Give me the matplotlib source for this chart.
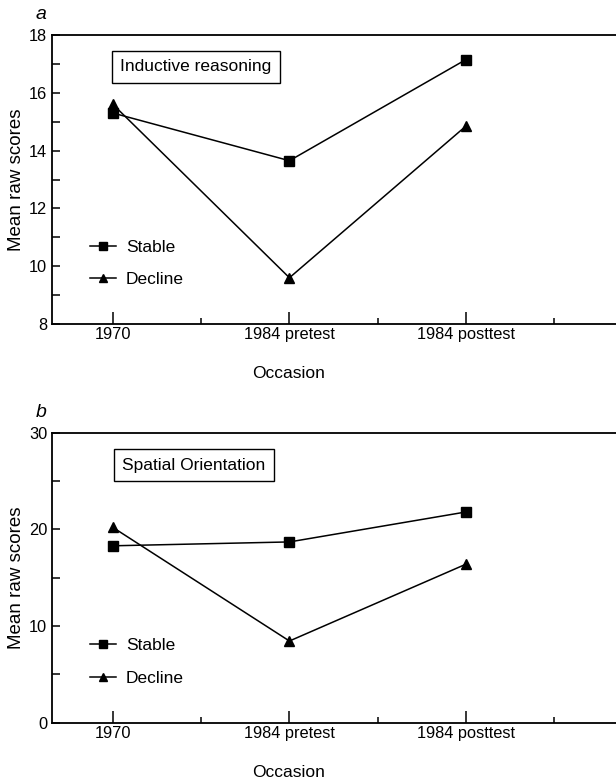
import matplotlib.pyplot as plt
from matplotlib.ticker import MultipleLocator, FixedLocator

plt.rcParams['font.family'] = ['Liberation Sans', 'DejaVu Sans']

# data
occasions = ['1970', '1984 pretest', '1984 posttest']
inductive_stable = [15.3, 13.65, 17.15]
inductive_decline = [15.6, 9.6, 14.85]
spatial_stable = [18.3, 18.7, 21.8]
spatial_decline = [20.2, 8.45, 16.4]

W, H = 616, 780
fig = plt.figure(figsize=(W / 100, H / 100), dpi=100)


def panel(rect_px, stable, decline, ylim, major, minor, title, title_xy, letter):
    left, top, right, bottom = rect_px
    ax = fig.add_axes([left / W, 1 - bottom / H, (right - left) / W, (bottom - top) / H])
    x = range(len(occasions))
    ax.plot(x, stable, '-', color='black', lw=1.1, marker='s', ms=7.5, label='Stable')
    ax.plot(x, decline, '-', color='black', lw=1.1, marker='^', ms=7.5, label='Decline')

    ax.set_xlim(-0.345, 2.85)
    ax.set_ylim(*ylim)
    ax.set_xticks(list(x))
    ax.set_xticklabels(occasions)
    ax.xaxis.set_minor_locator(FixedLocator([0.5, 1.5, 2.5]))
    ax.yaxis.set_major_locator(MultipleLocator(major))
    ax.yaxis.set_minor_locator(MultipleLocator(minor))
    ax.tick_params(axis='both', which='both', direction='in', width=1.1, labelsize=11.8)
    ax.tick_params(axis='x', which='major', length=9, pad=2.5)
    ax.tick_params(axis='x', which='minor', length=4.5)
    ax.tick_params(axis='y', which='both', length=6, pad=3.5)
    ax.spines['right'].set_visible(False)
    for s in ('left', 'top', 'bottom'):
        ax.spines[s].set_linewidth(1.3)

    ax.set_ylabel('Mean raw scores', fontsize=13.5, labelpad=3)
    ax.set_xlabel('Occasion', fontsize=12.5)
    ax.xaxis.set_label_coords((289 - left) / (right - left), -0.145)

    ax.text(title_xy[0], title_xy[1], title, fontsize=12.5, ha='center', va='center',
            bbox=dict(boxstyle='square,pad=0.5', fc='white', ec='black', lw=1))

    ax.legend(loc='center left', bbox_to_anchor=(0.068, 0.21), frameon=False,
              fontsize=12.5, handlelength=1.5, handletextpad=0.55,
              labelspacing=1.0, borderpad=0, borderaxespad=0, markerscale=0.85)
    ax.text(-0.02, 1.04, letter, transform=ax.transAxes, fontsize=14, style='italic',
            ha='center', va='bottom')
    return ax


panel((52, 35, 616, 324), inductive_stable, inductive_decline, (8, 18), 2, 1,
      'Inductive reasoning', (0.47, 16.9), 'a')
panel((52, 432.7, 616, 722.7), spatial_stable, spatial_decline, (0, 30), 10, 5,
      'Spatial Orientation', (0.46, 26.65), 'b')

fig.savefig('out.png', dpi=100)
